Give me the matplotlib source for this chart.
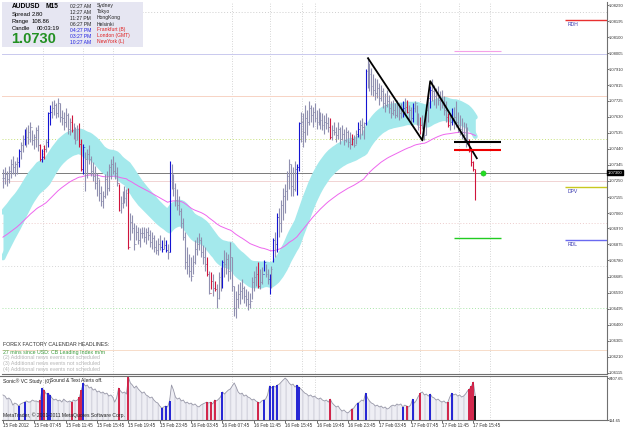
import numpy as np
import matplotlib
matplotlib.use("Agg")
import matplotlib.pyplot as plt
from matplotlib.patches import Rectangle

# ---------------- data ----------------
symbol = "AUDUSD"
timeframe = "M15"
bid = 1.07300

low = [1.0721,1.0723,1.0722,1.0724,1.0727,1.0729,1.0728,1.0729,1.0733,1.0738,
       1.0742,1.0746,1.0745,1.0747,1.0748,1.0746,1.0744,1.0745,1.0743,1.0737,
       1.0736,1.0738,1.0742,1.0745,1.0758,1.0762,1.0764,1.0762,1.0763,1.0760,
       1.0758,1.0755,1.0757,1.0753,1.0752,1.0754,1.0750,1.0747,1.0749,1.0745,
       1.0731,1.0729,1.0719,1.0727,1.0735,1.0728,1.0725,1.0720,1.0716,1.0713,
       1.0710,1.0709,1.0715,1.0717,1.0719,1.0726,1.0729,1.0726,1.0722,1.0707,
       1.0706,1.0709,1.0712,1.0710,1.0685,1.0690,1.0694,1.0684,1.0690,1.0688,
       1.0686,1.0691,1.0689,1.0688,1.0690,1.0686,1.0685,1.0683,1.0682,1.0681,
       1.0684,1.0683,1.0685,1.0683,1.0679,1.0683,1.0720,1.0716,1.0710,1.0708,
       1.0705,1.0697,1.0690,1.0673,1.0670,1.0668,1.0666,1.0670,1.0676,1.0681,
       1.0684,1.0680,1.0676,1.0672,1.0669,1.0658,1.0661,1.0657,1.0660,1.0650,
       1.0655,1.0660,1.0662,1.0668,1.0670,1.0666,1.0667,1.0660,1.0645,1.0644,
       1.0650,1.0652,1.0655,1.0653,1.0651,1.0649,1.0650,1.0655,1.0660,1.0663,
       1.0662,1.0661,1.0664,1.0672,1.0668,1.0664,1.0658,1.0662,1.0677,1.0680,
       1.0683,1.0692,1.0695,1.0702,1.0706,1.0714,1.0720,1.0716,1.0716,1.0719,
       1.0717,1.0731,1.0748,1.0745,1.0748,1.0752,1.0758,1.0760,1.0757,1.0760,
       1.0756,1.0758,1.0756,1.0755,1.0753,1.0756,1.0754,1.0750,1.0749,1.0752,
       1.0748,1.0750,1.0747,1.0749,1.0746,1.0748,1.0745,1.0744,1.0746,1.0745,
       1.0747,1.0751,1.0750,1.0752,1.0750,1.0758,1.0780,1.0778,1.0776,1.0775,
       1.0773,1.0774,1.0770,1.0772,1.0768,1.0766,1.0769,1.0765,1.0762,1.0764,
       1.0762,1.0763,1.0761,1.0762,1.0763,1.0764,1.0765,1.0761,1.0758,1.0760,
       1.0766,1.0758,1.0755,1.0753,1.0756,1.0749,1.0752,1.0760,1.0768,1.0772,
       1.0770,1.0768,1.0770,1.0767,1.0768,1.0764,1.0760,1.0757,1.0755,1.0758,
       1.0756,1.0757,1.0754,1.0752,1.0750,1.0748,1.0745,1.0747,1.0742,1.0734,
       1.0731,1.0714]

high = [1.0732,1.0733,1.0731,1.0734,1.0738,1.0740,1.0737,1.0739,1.0744,1.0748,
        1.0752,1.0756,1.0757,1.0758,1.0760,1.0755,1.0753,1.0757,1.0758,1.0747,
        1.0744,1.0746,1.0750,1.0766,1.0770,1.0772,1.0773,1.0771,1.0774,1.0771,
        1.0767,1.0766,1.0768,1.0765,1.0762,1.0764,1.0759,1.0757,1.0758,1.0759,
        1.0750,1.0747,1.0742,1.0744,1.0746,1.0740,1.0736,1.0734,1.0730,1.0726,
        1.0722,1.0719,1.0729,1.0731,1.0735,1.0738,1.0740,1.0736,1.0733,1.0723,
        1.0716,1.0719,1.0722,1.0720,1.0721,1.0706,1.0705,1.0700,1.0699,1.0698,
        1.0697,1.0698,1.0698,1.0697,1.0698,1.0696,1.0695,1.0693,1.0690,1.0691,
        1.0693,1.0690,1.0692,1.0690,1.0688,1.0737,1.0735,1.0729,1.0724,1.0720,
        1.0716,1.0709,1.0703,1.0695,1.0686,1.0682,1.0680,1.0681,1.0690,1.0692,
        1.0694,1.0692,1.0687,1.0686,1.0680,1.0672,1.0671,1.0670,1.0666,1.0664,
        1.0671,1.0674,1.0678,1.0684,1.0683,1.0682,1.0689,1.0680,1.0663,1.0660,
        1.0664,1.0665,1.0667,1.0663,1.0661,1.0660,1.0659,1.0668,1.0672,1.0675,
        1.0677,1.0673,1.0674,1.0678,1.0676,1.0673,1.0670,1.0675,1.0691,1.0695,
        1.0706,1.0709,1.0714,1.0721,1.0723,1.0731,1.0738,1.0735,1.0733,1.0737,
        1.0735,1.0760,1.0766,1.0765,1.0770,1.0767,1.0772,1.0770,1.0769,1.0771,
        1.0767,1.0768,1.0766,1.0765,1.0764,1.0765,1.0763,1.0762,1.0758,1.0760,
        1.0757,1.0760,1.0757,1.0758,1.0756,1.0757,1.0755,1.0754,1.0753,1.0752,
        1.0755,1.0760,1.0761,1.0762,1.0760,1.0791,1.0798,1.0795,1.0792,1.0788,
        1.0786,1.0785,1.0783,1.0782,1.0780,1.0777,1.0779,1.0776,1.0772,1.0773,
        1.0771,1.0773,1.0771,1.0771,1.0772,1.0774,1.0773,1.0770,1.0769,1.0771,
        1.0772,1.0770,1.0765,1.0763,1.0764,1.0760,1.0770,1.0777,1.0781,1.0785,
        1.0782,1.0780,1.0781,1.0778,1.0779,1.0775,1.0772,1.0765,1.0765,1.0768,
        1.0769,1.0772,1.0766,1.0764,1.0762,1.0760,1.0759,1.0757,1.0750,1.0744,
        1.0737,1.0732]

close = [1.0727,1.0729,1.0726,1.0731,1.0735,1.0733,1.0735,1.0736,1.0743,1.0746,
         1.0750,1.0755,1.0751,1.0754,1.0757,1.0749,1.0751,1.0755,1.0746,1.0738,
         1.0739,1.0744,1.0748,1.0765,1.0766,1.0768,1.0770,1.0765,1.0771,1.0763,
         1.0762,1.0760,1.0764,1.0756,1.0760,1.0755,1.0752,1.0749,1.0756,1.0747,
         1.0732,1.0745,1.0738,1.0741,1.0738,1.0731,1.0728,1.0724,1.0727,1.0718,
         1.0713,1.0716,1.0726,1.0721,1.0733,1.0735,1.0731,1.0730,1.0724,1.0708,
         1.0712,1.0716,1.0715,1.0718,1.0686,1.0701,1.0697,1.0688,1.0695,1.0690,
         1.0694,1.0694,1.0692,1.0695,1.0693,1.0689,1.0691,1.0686,1.0684,1.0688,
         1.0686,1.0685,1.0687,1.0684,1.0683,1.0730,1.0724,1.0721,1.0714,1.0711,
         1.0707,1.0700,1.0692,1.0677,1.0675,1.0672,1.0669,1.0677,1.0685,1.0688,
         1.0690,1.0683,1.0680,1.0676,1.0670,1.0659,1.0666,1.0662,1.0661,1.0656,
         1.0668,1.0665,1.0677,1.0676,1.0679,1.0672,1.0680,1.0663,1.0650,1.0655,
         1.0658,1.0660,1.0662,1.0657,1.0655,1.0652,1.0654,1.0665,1.0668,1.0670,
         1.0663,1.0665,1.0670,1.0677,1.0670,1.0667,1.0663,1.0673,1.0690,1.0688,
         1.0704,1.0700,1.0711,1.0716,1.0719,1.0728,1.0735,1.0722,1.0720,1.0732,
         1.0733,1.0759,1.0760,1.0754,1.0762,1.0760,1.0768,1.0764,1.0766,1.0762,
         1.0760,1.0763,1.0761,1.0758,1.0760,1.0759,1.0757,1.0751,1.0755,1.0754,
         1.0752,1.0756,1.0750,1.0753,1.0749,1.0754,1.0748,1.0747,1.0750,1.0746,
         1.0753,1.0756,1.0758,1.0757,1.0759,1.0790,1.0786,1.0788,1.0781,1.0779,
         1.0777,1.0780,1.0774,1.0778,1.0771,1.0770,1.0772,1.0768,1.0765,1.0767,
         1.0764,1.0770,1.0765,1.0767,1.0768,1.0769,1.0766,1.0767,1.0762,1.0768,
         1.0771,1.0762,1.0757,1.0758,1.0757,1.0752,1.0767,1.0774,1.0779,1.0778,
         1.0775,1.0776,1.0773,1.0772,1.0770,1.0767,1.0763,1.0758,1.0760,1.0762,
         1.0763,1.0760,1.0758,1.0756,1.0754,1.0752,1.0748,1.0750,1.0743,1.0736,
         1.0732,1.0730]

volume = [1450,1390,1230,1290,1180,910,1020,970,860,970,
          1020,1070,1130,1070,1080,1180,1120,1130,1070,1180,
          1820,1710,1500,1550,1450,1290,1180,1230,1130,1180,
          1070,1230,1130,1070,1130,1070,1180,1130,1180,1340,
          1710,2090,1930,1980,1820,1870,1710,1770,1610,1660,
          1550,1610,1500,1550,1390,1450,1340,1070,1290,1820,
          1660,1550,1610,1500,2407.65,2090,1980,1820,1930,1770,
          1660,1550,1610,1450,1390,1290,1340,1180,1070,1020,
          860,750,810,860,810,1130,1980,1710,1340,1230,
          1290,1130,1180,1020,1070,970,1020,910,970,860,
          810,910,970,1020,1070,1020,1070,970,1180,1130,
          1230,1340,1610,1500,1610,1710,1770,1930,2090,1870,
          1610,1500,1550,1390,1450,1340,1290,1180,1230,1130,
          1070,1020,1130,1180,1230,1450,1930,1820,1930,1870,
          1980,2030,2140,2250,2350,2250,2090,1980,2030,1870,
          1980,1870,1770,1660,1550,1500,1390,1450,1340,1390,
          1290,1230,1290,1180,1130,1180,1070,1230,1020,910,
          810,860,700,590,650,540,490,590,700,750,
          910,1020,1070,1180,1130,1550,1290,1130,1020,970,
          860,910,810,860,750,810,700,750,860,910,
          860,970,910,970,810,910,860,810,910,1230,
          1020,1180,1390,1550,1610,1450,1500,1390,1500,1340,
          1290,1180,1230,1130,1070,1130,1020,1070,1340,1550,
          1450,1500,1390,1450,1340,1390,1500,1660,1770,1930,
          2140,1390]

blue_bars = [8, 11, 20, 23, 24, 41, 81, 83, 85, 112, 133, 136, 138, 140,
             150, 151, 181, 185, 204, 209, 218, 229]
red_bars = [19, 21, 35, 39, 40, 59, 64, 104, 106, 108, 130, 167, 178, 206,
            213, 227, 238, 239, 240, 241]

time_labels = ["15 Feb 2012", "15 Feb 07:45", "15 Feb 11:45", "15 Feb 15:45",
               "15 Feb 19:45", "15 Feb 23:45", "16 Feb 03:45", "16 Feb 07:45",
               "16 Feb 11:45", "16 Feb 15:45", "16 Feb 19:45", "16 Feb 23:45",
               "17 Feb 03:45", "17 Feb 07:45", "17 Feb 11:45", "17 Feb 15:45"]
time_label_bars = [0, 16, 32, 48, 64, 80, 96, 112, 128, 144, 160, 176, 192, 208, 224, 240]

price_ticks = [1.08290, 1.08195, 1.08100, 1.08005, 1.07910, 1.07815, 1.07725,
               1.07630, 1.07535, 1.07440, 1.07345, 1.07250, 1.07155, 1.07060,
               1.06970, 1.06875, 1.06780, 1.06685, 1.06590, 1.06495, 1.06400,
               1.06305, 1.06210, 1.06115]
price_range = (1.06109, 1.08308)
vc_range = (114.65, 2407.65)

# round-number levels
round_levels = [1.0825, 1.0800, 1.0775, 1.0750, 1.0725, 1.0700, 1.0675, 1.0650, 1.0625]
round_colors = ["#cfcfcf", "#c9c9ee", "#f7d3c4", "#c6e27a", "#f1d3d3",
                "#edcccc", "#d6d6d6", "#a9e6a9", "#f7dcc9"]
round_styles = [":", "-", "-", ":", "-", ":", ":", ":", "-"]

# EMA seeds (values carried in from bars before the window)
dragon_seed_high = 1.0705
dragon_seed_low = 1.0677
dragon_period = 34
ema89_seed = 1.0691

# drawn objects
zigzag_bars = [186, 214, 218, 242]
zigzag_prices = [1.0798, 1.0749, 1.0784, 1.0738]
seg_bars = (230, 254)
seg_levels = [1.07480, 1.07433, 1.06913, 1.08018]
seg_colors = ["#000000", "#ee0000", "#22cc22", "#f4a0e8"]
seg_widths = [1.5, 1.5, 1.0, 0.8]
pivot_bars = (287, 308.5)
pivot_names = ["RDH", "DPV", "RDL"]
pivot_prices = [1.08201, 1.07214, 1.06901]
pivot_colors = ["#e83030", "#c8c820", "#6a6af0"]
signal_bar, signal_price = 245, 1.0730

vertical_grid_bars = [20.5, 41, 56, 117, 136, 152.5, 159, 213, 232.5, 248.5]

# ---------------- derived ----------------
def ema(vals, period, seed):
    a = 2.0 / (period + 1)
    out, prev = [], seed
    for v in vals:
        prev = prev + a * (v - prev)
        out.append(prev)
    return np.array(out)

n = len(close)
idx = np.arange(n)
opens = [close[0]] + close[:-1]
dr_hi = ema(high, dragon_period, dragon_seed_high)
dr_lo = ema(low, dragon_period, dragon_seed_low)
ema89 = ema(close, 89, ema89_seed)

BAR_GRAY = "#9090b0"
BLUE = "#1414d2"
RED = "#d0143c"
colors = []
for i in idx:
    if i in blue_bars:
        colors.append(BLUE)
    elif i in red_bars:
        colors.append(RED)
    else:
        colors.append(BAR_GRAY)

# ---------------- figure ----------------
W, H = 625, 429
fig = plt.figure(figsize=(W / 100, H / 100), dpi=100)
plt.rcParams['font.family'] = ['Liberation Sans', 'DejaVu Sans']

def fx(px):
    return px / W

def fy(py):
    return 1 - py / H

ax = fig.add_axes([fx(2), fy(374), fx(605), 372 / H])
axv = fig.add_axes([fx(2), fy(420), fx(605), 43 / H])

xl = (-0.5, 308.2)
for a in (ax, axv):
    a.set_xlim(*xl)
    a.set_facecolor("white")
    for s in ("left", "top"):
        a.spines[s].set_visible(False)
    a.spines["right"].set_color("#707070")
    a.spines["bottom"].set_color("#707070")
    a.spines["right"].set_linewidth(0.8)
    a.spines["bottom"].set_linewidth(0.8)

ax.set_ylim(*price_range)

# grid / levels
for b in vertical_grid_bars:
    ax.axvline(b, color="#c8c8c8", lw=0.6, ls=(0, (1, 2)), zorder=0)
    axv.axvline(b, color="#c8c8c8", lw=0.6, ls=(0, (1, 2)), zorder=0)
for lv, c, st in zip(round_levels, round_colors, round_styles):
    ax.axhline(lv, color=c, lw=0.7, ls=st if st == "-" else (0, (1, 2)), zorder=0)
ax.axhline(bid, color="#7a7a7a", lw=0.7, zorder=1)

# dragon band & EMA89
ax.fill_between(idx, dr_lo, dr_hi, color="#a4e9ec", lw=0, zorder=1)
ax.plot(idx, dr_hi, color="#a4e9ec", lw=3.5, zorder=1, solid_capstyle="round")
ax.plot(idx, dr_lo, color="#a4e9ec", lw=3.5, zorder=1, solid_capstyle="round")
ax.plot(idx, ema89, color="#ee66ee", lw=0.7, zorder=2)

# bars
ax.vlines(idx, low, high, colors=colors, lw=0.8, zorder=3)
ax.hlines(opens, idx - 0.45, idx, colors=colors, lw=0.6, zorder=3)
ax.hlines(close, idx, idx + 0.45, colors=colors, lw=0.6, zorder=3)

# objects
ax.plot(zigzag_bars, zigzag_prices, color="black", lw=1.3, zorder=5, solid_capstyle="butt")
for lv, c, w in zip(seg_levels, seg_colors, seg_widths):
    ax.hlines(lv, seg_bars[0], seg_bars[1], colors=c, lw=w, zorder=5)
for nm, pv, c in zip(pivot_names, pivot_prices, pivot_colors):
    ax.hlines(pv, pivot_bars[0], pivot_bars[1], colors=c, lw=1.0, zorder=5)
    ax.text(pivot_bars[0] + 1, pv - 0.00012, nm, color="#3a3ab0", fontsize=3.6,
            va="top", ha="left", zorder=6)
ax.plot([signal_bar], [signal_price], "o", color="#22dd22", ms=3.8, mec="#22aa22", mew=0.3, zorder=6)

# price axis
ax.yaxis.tick_right()
ax.set_yticks(price_ticks)
ax.set_yticklabels([f"{p:.5f}" for p in price_ticks])
ax.tick_params(axis="y", labelsize=3.0, length=1.2, width=0.5, pad=0.3, colors="#333333")
ax.set_xticks([])
ax.text(1.001, bid, f"{bid:.5f}", transform=ax.get_yaxis_transform(), fontsize=3.0,
        color="white", va="center", ha="left", zorder=10,
        bbox=dict(boxstyle="square,pad=0.15", fc="black", ec="black"))

# indicator
axv.set_ylim(*vc_range)
axv.fill_between(idx, vc_range[0], volume, color="#eeeef4", lw=0, zorder=1, hatch="|||",
                 edgecolor="#d6d6e0")
axv.plot(idx, volume, color="#9898a8", lw=0.6, zorder=2)
vc_idx = blue_bars + red_bars
vc_cols = [("black" if i == n - 1 else (BLUE if i in blue_bars else RED)) for i in vc_idx]
axv.vlines(vc_idx, vc_range[0], [volume[i] for i in vc_idx], colors=vc_cols, lw=1.3, zorder=3)
axv.yaxis.tick_right()
axv.set_yticks([vc_range[1] - 60, vc_range[0]])
axv.set_yticklabels([f"{vc_range[1]:.2f}", f"{vc_range[0]:.2f}"])
axv.tick_params(axis="y", labelsize=3.0, length=1.2, width=0.5, pad=0.3, colors="#333333")
axv.set_xticks(time_label_bars)
axv.set_xticklabels(time_labels, ha="left")
axv.tick_params(axis="x", labelsize=3.3, length=2, width=0.5, pad=0.5, colors="#333333")

# separator double line
fig.add_artist(plt.Line2D([0, fx(607)], [fy(375.5), fy(375.5)], color="#707070", lw=0.8))

# ---------------- texts ----------------
fig.patches.append(Rectangle((fx(2), fy(47)), fx(141), 45 / H, transform=fig.transFigure,
                             fc="#e6e6f2", ec="none", zorder=1))
fig.text(fx(12), fy(6.5), symbol, fontsize=4.8, fontweight="bold", va="center")
fig.text(fx(45), fy(6.5), timeframe, fontsize=4.8, fontweight="bold", va="center")
fig.text(fx(12), fy(14.5), "Spread", fontsize=4.2, va="center")
fig.text(fx(32), fy(14.5), "2.80", fontsize=4.2, va="center")
fig.text(fx(12), fy(21.5), "Range", fontsize=4.2, va="center")
fig.text(fx(32), fy(21.5), "108.86", fontsize=4.2, va="center")
fig.text(fx(12), fy(28.5), "Candle", fontsize=4.2, va="center")
fig.text(fx(37), fy(28.5), "00:03:19", fontsize=4.2, va="center")
fig.text(fx(11), fy(39), "1.0730", fontsize=10.5, fontweight="bold", color="#229022", va="center")

clock_times = ["02:27 AM", "12:27 AM", "11:27 PM", "06:27 PM", "04:27 PM", "03:27 PM", "10:27 AM"]
clock_cities = ["Sydney", "Tokyo", "HongKong", "Helsinki", "Frankfurt (B)", "London (GMT)", "NewYork (L)"]
for k, (t, c) in enumerate(zip(clock_times, clock_cities)):
    yy = 6 + 6 * k
    tc = "#222222" if k < 4 else "#2020e0"
    cc = "#222222" if k < 4 else "#e02020"
    fig.text(fx(70), fy(yy), t, fontsize=3.6, color=tc, va="center")
    fig.text(fx(97), fy(yy), c, fontsize=3.6, color=cc, va="center")

fig.text(fx(3), fy(345), "FOREX FACTORY CALENDAR HEADLINES:", fontsize=3.8, color="#333333", va="center")
fig.text(fx(3), fy(352.5), "27 mins since USD: CB Leading Index m/m", fontsize=3.8, color="#3a9a3a", va="center")
for k in range(3):
    fig.text(fx(3), fy(358 + 5.5 * k), f"({k + 2}) Additional news events not scheduled",
             fontsize=3.8, color="#b4b4b4", va="center")

fig.text(fx(3), fy(381), "Sonic\u00ae VC Study  (0)", fontsize=3.6, color="#222222", va="center")
fig.text(fx(50), fy(381), "Sound & Text Alerts off.", fontsize=3.6, color="#222222", va="center")
fig.text(fx(3), fy(415.5), "MetaTrader, \u00a9 2001-2011 MetaQuotes Software Corp.", fontsize=3.6,
         color="#222222", va="center")

fig.savefig("out.png", dpi=100, facecolor="white")
